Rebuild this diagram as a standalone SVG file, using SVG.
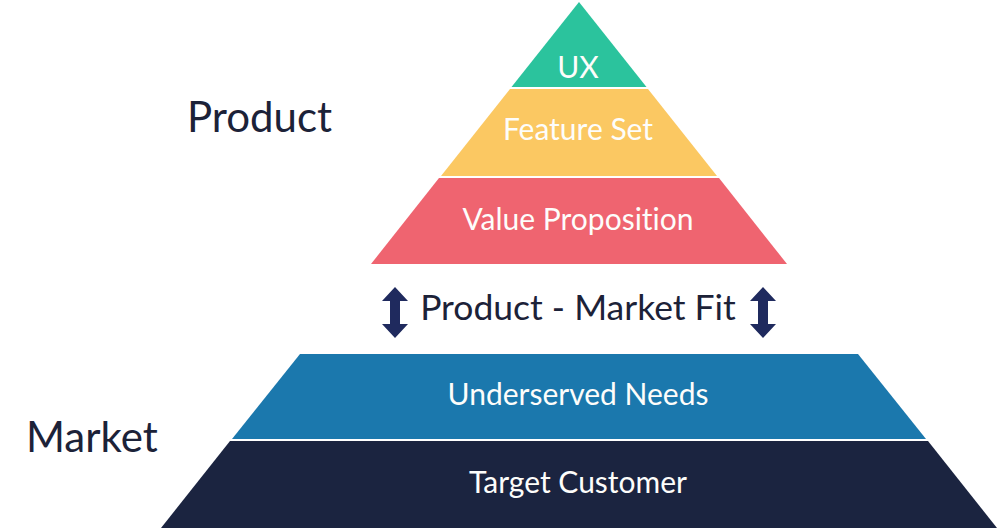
<svg xmlns="http://www.w3.org/2000/svg" width="1000" height="529" viewBox="0 0 1000 529">
<style>
text{font-variant-ligatures:none}
.lbl{font-family:Lato,"Liberation Sans",sans-serif;fill:#fdfdfb;font-size:30px;text-anchor:middle}
.big{font-family:Lato,"Liberation Sans",sans-serif;fill:#1c2238;font-size:42px}
.fit{font-family:Lato,"Liberation Sans",sans-serif;fill:#1c2238;font-size:35.5px;text-anchor:middle}
.arr{fill:#1f2a5e}
</style>
<rect width="1000" height="529" fill="#ffffff"/>
<g id="ux"><polygon points="579,2 646.5,87 511.5,87" fill="#2bc39d"/><text class="lbl" x="578" y="78">UX</text></g>
<g id="feature-set"><polygon points="510,89 648,89 717,176 441,176" fill="#fbc862"/><text class="lbl" x="578" y="140">Feature Set</text></g>
<g id="value-proposition"><polygon points="439,178 719,178 787,264 371,264" fill="#ef6470"/><text class="lbl" x="578" y="230">Value Proposition</text></g>
<g id="product-label"><text class="big" x="187" y="132">Product</text></g>
<g id="market-label"><text class="big" x="26" y="452">Market</text></g>
<g id="fit-label"><text class="fit" x="578" y="320">Product - Market Fit</text></g>
<g id="underserved-needs"><polygon points="300,354 858,354 926,439 232,439" fill="#1b78ad"/><text class="lbl" x="578" y="405">Underserved Needs</text></g>
<g id="target-customer"><polygon points="230,441 928,441 997,528 161,528" fill="#1b2440"/><text class="lbl" x="578" y="493">Target Customer</text></g>
<g id="connectors">
<path class="arr" d="M395,287 L408,301 L400,301 L400,324 L408,324 L395,338 L382,324 L390,324 L390,301 L382,301 Z"/>
<path class="arr" d="M763,287 L776,301 L768,301 L768,324 L776,324 L763,338 L750,324 L758,324 L758,301 L750,301 Z"/>
</g>
</svg>
